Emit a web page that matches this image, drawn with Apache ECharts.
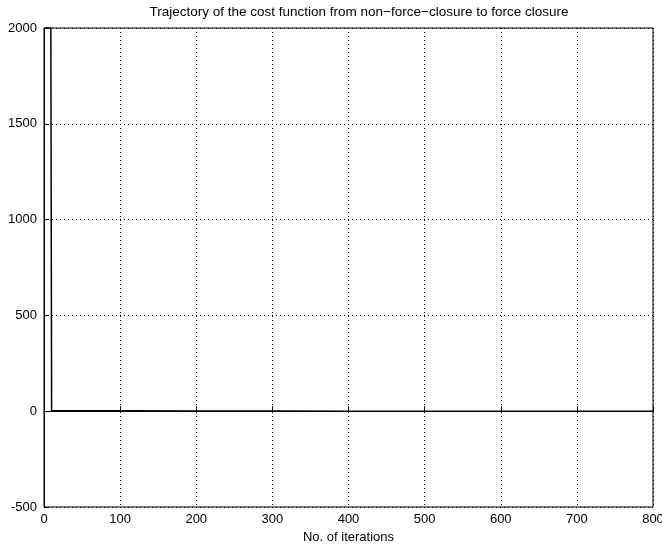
<!DOCTYPE html>
<html>
<head>
<meta charset="utf-8">
<script src="https://cdn.jsdelivr.net/npm/echarts@6/dist/echarts.min.js"></script>
<style>
  html, body { margin: 0; padding: 0; background: #fff; }
  #chart { width: 662px; height: 551px; }
</style>
</head>
<body>
<div id="chart"></div>
<script>
// Cost function value per iteration
const iterations = [0, 9, 10, 100, 200, 300, 400, 500, 600, 700, 800];
const costValues = [2000, 2000, 3, 2, 1, 1, 0, 0, 0, 0, 0];

const xTicks = [0, 100, 200, 300, 400, 500, 600, 700, 800];
const yTicks = [-500, 0, 500, 1000, 1500, 2000];

const fontFamily = 'Liberation Sans, Arial, sans-serif';
const chart = echarts.init(document.getElementById('chart'), null, { renderer: 'canvas' });

chart.setOption({
  animation: false,
  backgroundColor: '#fff',
  title: {
    text: 'Trajectory of the cost function from non\u2212force\u2212closure to force closure',
    left: 354, top: 0, textAlign: 'center',
    textStyle: { fontFamily, fontSize: 13.5, fontWeight: 'normal', color: '#000' }
  },
  grid: {
    left: 44, right: 9, top: 28, bottom: 44,
    outerBoundsMode: 'none', containLabel: false,
    show: true, borderColor: '#000', borderWidth: 1
  },
  xAxis: {
    type: 'value', min: xTicks[0], max: xTicks[xTicks.length - 1], interval: 100,
    name: 'No. of iterations', nameLocation: 'middle', nameGap: 24,
    nameTextStyle: { fontFamily, fontSize: 13, color: '#000' },
    axisLine: { show: true, lineStyle: { color: '#000', width: 1 } },
    axisTick: { show: true, inside: true, length: 5, lineStyle: { color: '#000' } },
    axisLabel: { fontFamily, fontSize: 13, color: '#000', margin: 6, formatter: v => String(v) },
    splitLine: { show: true, lineStyle: { color: '#000', type: [1, 3], width: 1 } }
  },
  yAxis: {
    type: 'value', min: yTicks[0], max: yTicks[yTicks.length - 1], interval: 500,
    axisLine: { show: true, lineStyle: { color: '#000', width: 1 } },
    axisTick: { show: true, inside: true, length: 5, lineStyle: { color: '#000' } },
    axisLabel: { fontFamily, fontSize: 13, color: '#000', margin: 7, formatter: v => String(v) },
    splitLine: { show: true, lineStyle: { color: '#000', type: [1, 3], width: 1 } }
  },
  series: [{
    type: 'line',
    data: iterations.map((x, i) => [x, costValues[i]]),
    showSymbol: false,
    clip: true,
    lineStyle: { color: '#000', width: 1.5 }
  }]
});
</script>
</body>
</html>
